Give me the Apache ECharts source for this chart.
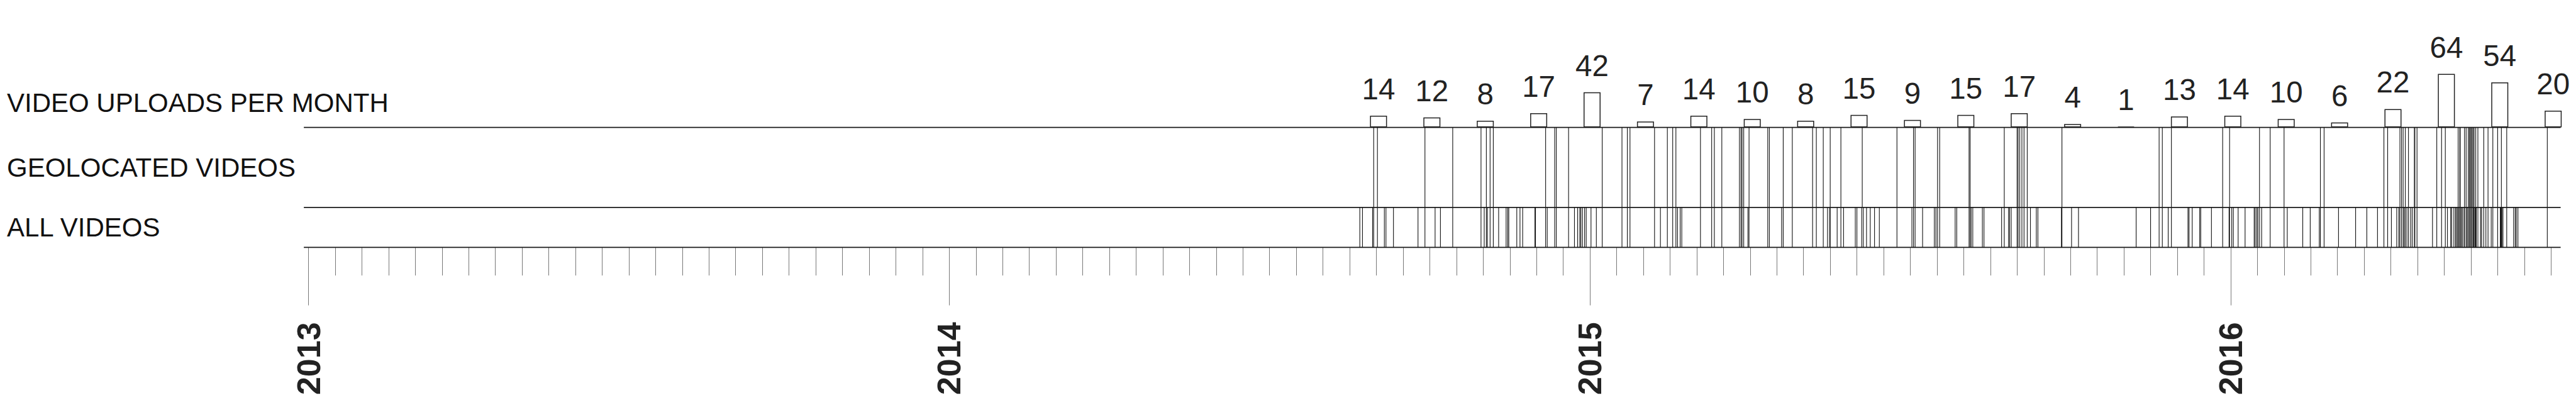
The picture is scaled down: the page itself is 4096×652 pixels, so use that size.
<!DOCTYPE html>
<html><head><meta charset="utf-8">
<script src="https://cdn.jsdelivr.net/npm/echarts@6/dist/echarts.min.js"></script>
<style>html,body{margin:0;padding:0;background:#fff}#c{width:4096px;height:652px}</style>
</head><body><div id="c"></div>
<script>
// ---- data ----
const ROW_LABELS = ['VIDEO UPLOADS PER MONTH', 'GEOLOCATED VIDEOS', 'ALL VIDEOS'];
const UPLOAD_MONTHS = ['2014-09','2014-10','2014-11','2014-12','2015-01','2015-02','2015-03','2015-04','2015-05','2015-06','2015-07','2015-08','2015-09','2015-10','2015-11','2015-12','2016-01','2016-02','2016-03','2016-04','2016-05','2016-06','2016-07'];
const UPLOADS = [14,12,8,17,42,7,14,10,8,15,9,15,17,4,1,13,14,10,6,22,64,54,20];
const YEAR_LABELS = ['2013','2014','2015','2016'];
// event positions in months since Jan 2013
const GEO_EVENTS = [19.95,20.02,20.91,21.43,21.96,22.06,22.13,22.19,23.17,23.34,23.37,23.60,24.23,24.60,24.70,24.75,
25.21,25.45,25.55,25.61,26.07,26.28,26.33,26.47,26.80,26.83,26.85,26.88,26.98,27.33,27.36,27.62,27.79,28.17,28.24,28.37,28.50,28.70,29.10,29.75,30.06,30.09,30.51,30.55,
31.10,31.12,31.76,32.00,32.02,32.05,32.09,32.13,32.19,32.84,34.66,34.72,34.89,35.85,35.98,
36.54,36.74,37.00,37.68,37.75,38.87,38.94,39.17,39.20,39.23,39.27,39.33,39.44,39.45,39.49,39.86,39.95,40.02,40.26,40.29,40.30,40.38,40.41,40.45,40.47,40.49,40.50,40.52,40.54,40.56,40.59,40.63,40.74,40.82,40.91,41.00,41.07,41.17,41.93];
const ALL_EVENTS = [19.69,19.74,19.93,19.95,20.02,20.15,20.18,20.32,20.78,20.91,21.10,21.20,21.43,21.96,22.02,22.06,22.08,22.13,22.19,22.29,22.43,22.46,22.48,22.63,22.69,22.74,22.97,22.98,23.17,23.20,23.34,23.37,23.60,23.71,23.77,23.81,23.83,23.86,23.90,23.93,24.02,24.12,24.23,24.60,24.70,24.75,
25.21,25.32,25.45,25.55,25.61,25.64,25.69,25.72,26.07,26.28,26.33,26.47,26.80,26.83,26.85,26.88,26.96,26.98,27.33,27.36,27.59,27.62,27.79,28.17,28.24,28.37,28.45,28.49,28.50,28.63,28.70,28.75,28.97,29.00,29.09,29.12,29.18,29.25,29.33,29.42,29.75,30.03,30.06,30.09,30.23,30.45,30.48,30.51,30.55,
30.84,30.87,31.10,31.12,31.14,31.17,31.35,31.38,31.71,31.76,31.84,31.86,31.89,32.00,32.02,32.05,32.09,32.13,32.19,32.25,32.36,32.39,32.83,32.84,33.02,33.15,34.23,34.50,34.66,34.72,34.83,34.89,35.20,35.22,35.28,35.42,35.44,35.64,35.85,35.97,35.98,36.02,36.05,36.14,36.27,
36.44,36.46,36.49,36.51,36.54,36.58,36.74,37.00,37.06,37.35,37.49,37.66,37.68,37.75,38.02,38.34,38.55,38.75,38.87,38.94,39.01,39.11,39.15,39.17,39.20,39.23,39.25,39.27,39.30,39.33,39.37,39.40,39.44,39.45,39.49,39.78,39.86,39.95,40.02,40.06,40.12,40.14,40.18,40.21,40.23,40.25,40.27,40.29,40.30,40.32,40.34,40.37,40.38,40.41,40.43,40.45,40.47,40.49,40.50,40.52,40.54,40.55,40.56,40.58,40.59,40.60,40.63,40.68,40.70,40.74,40.78,40.82,40.88,40.91,41.00,41.05,41.06,41.07,41.08,41.10,41.17,41.30,41.33,41.35,41.38,41.93];
const RULE_EXTENT = [-0.087, 42.18];   // months covered by the horizontal rules
const RULE_LEVELS = [3, 1, 0];         // uploads baseline, row divider, time axis

// ---- build ----
const FONT = "'Liberation Sans', Arial, Helvetica, sans-serif";
function monthIndex(s) { const p = s.split('-').map(Number); return (p[0] - 2013) * 12 + (p[1] - 1); }
const L = 490.5, R = 39.7;
const W = 4096 - L - R;           // width of 42 months
const PER_MONTH = W / 42;

const chart = echarts.init(document.getElementById('c'), null, { renderer: 'svg' });

function vline(params, api) {
  const base = api.value(1);
  const top = base === 1 ? 3 : 1;
  const p0 = api.coord([api.value(0), base]);
  const p1 = api.coord([api.value(0), top]);
  return { type: 'line', shape: { x1: p0[0], y1: p0[1], x2: p1[0], y2: p1[1] },
           style: { stroke: '#111', lineWidth: 1.1 } };
}

chart.setOption({
  animation: false,
  backgroundColor: '#fff',
  title: ROW_LABELS.map((t, i) => ({
    text: t, left: 11, top: [142.9, 245.1, 340.2][i], padding: 0,
    textStyle: { fontSize: 42, fontWeight: 'normal', color: '#111', fontFamily: FONT }
  })),
  grid: [
    { left: L, width: W, top: 69.8, height: 132.8, outerBoundsMode: 'none', containLabel: false },
    { left: L, width: W, top: 202.6, height: 190.8, outerBoundsMode: 'none', containLabel: false },
    { left: L, width: PER_MONTH * 48, top: 300, height: 93.4, outerBoundsMode: 'none', containLabel: false }
  ],
  xAxis: [
    { gridIndex: 0, type: 'value', min: 0, max: 42, show: false },
    { gridIndex: 1, type: 'value', min: 0, max: 42, interval: 0.5,
      axisLine: { show: false }, splitLine: { show: false }, axisLabel: { show: false },
      axisTick: { show: true, length: 44.7, lineStyle: { color: '#777', width: 1 } } },
    { gridIndex: 2, type: 'value', min: 0, max: 48, interval: 12,
      axisLine: { show: false }, splitLine: { show: false },
      axisTick: { show: true, length: 92.2, lineStyle: { color: '#777', width: 1 } },
      axisLabel: { show: true, rotate: 90, margin: 119, fontSize: 52, fontWeight: 'bold',
        color: '#222', fontFamily: FONT,
        formatter: v => YEAR_LABELS[Math.round(v / 12)] || '' } }
  ],
  yAxis: [
    { gridIndex: 0, type: 'value', min: 0, max: 100, show: false },
    { gridIndex: 1, type: 'value', min: 0, max: 3, show: false },
    { gridIndex: 2, type: 'value', min: 0, max: 1, show: false }
  ],
  series: [
    { type: 'bar', xAxisIndex: 0, yAxisIndex: 0, barWidth: 27,
      data: UPLOAD_MONTHS.map((s, i) => [monthIndex(s) + 0.04, UPLOADS[i]]),
      itemStyle: { color: '#fff', borderColor: '#222', borderWidth: 1.5 },
      label: { show: true, position: 'top', distance: 18.5, fontSize: 47.5, color: '#222', fontFamily: FONT,
        formatter: p => String(p.value[1]) },
      silent: true },
    { type: 'custom', xAxisIndex: 1, yAxisIndex: 1, clip: false, silent: true,
      data: GEO_EVENTS.map(m => [m, 1]), encode: { x: 0, y: 1 }, renderItem: vline },
    { type: 'custom', xAxisIndex: 1, yAxisIndex: 1, clip: false, silent: true,
      data: ALL_EVENTS.map(m => [m, 0]), encode: { x: 0, y: 1 }, renderItem: vline },
    { type: 'custom', xAxisIndex: 1, yAxisIndex: 1, clip: false, silent: true, z: 5,
      data: RULE_LEVELS.map(y => [RULE_EXTENT[0], RULE_EXTENT[1], y]),
      encode: { x: [0, 1], y: 2 },
      renderItem: (params, api) => {
        const a = api.coord([api.value(0), api.value(2)]);
        const b = api.coord([api.value(1), api.value(2)]);
        return { type: 'line', shape: { x1: a[0], y1: a[1], x2: b[0], y2: b[1] },
                 style: { stroke: '#1a1a1a', lineWidth: 1.7 } };
      } }
  ]
});
</script></body></html>
